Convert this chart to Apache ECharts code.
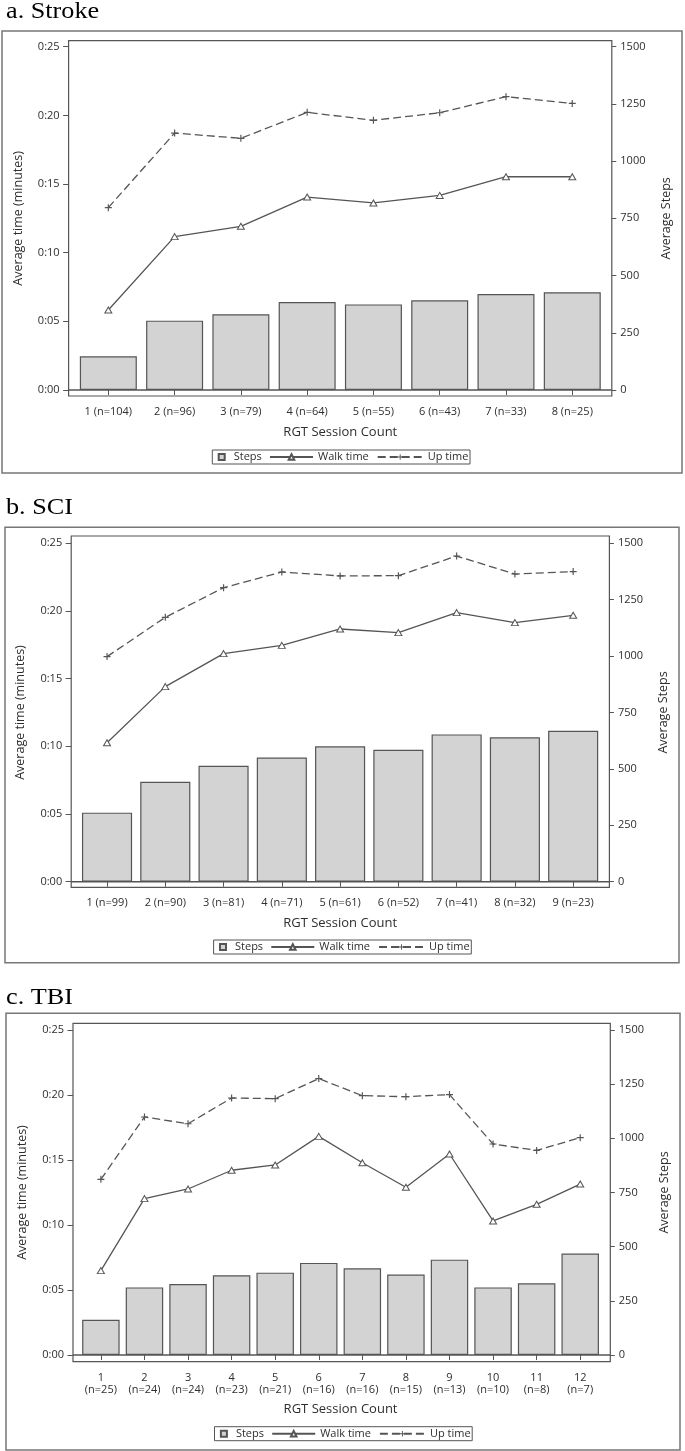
<!DOCTYPE html>
<html>
<head>
<meta charset="utf-8">
<script src="https://cdn.jsdelivr.net/npm/echarts@6/dist/echarts.min.js"></script>
<style>
  html, body { margin: 0; padding: 0; background: #fff; }
  #chart { width: 685px; height: 1451px; }
</style>
</head>
<body>
<div id="chart"></div>
<script>
// ---------- data ----------
const strokeCategories = ['1 (n=104)', '2 (n=96)', '3 (n=79)', '4 (n=64)', '5 (n=55)', '6 (n=43)', '7 (n=33)', '8 (n=25)'];
const strokeSteps = [147, 303, 331, 384, 374, 392, 419, 427];
const strokeWalk = [5.83, 11.17, 11.92, 14.05, 13.62, 14.17, 15.53, 15.53];
const strokeUp = [13.28, 18.71, 18.33, 20.22, 19.64, 20.19, 21.36, 20.87];

const sciCategories = ['1 (n=99)', '2 (n=90)', '3 (n=81)', '4 (n=71)', '5 (n=61)', '6 (n=52)', '7 (n=41)', '8 (n=32)', '9 (n=23)'];
const sciSteps = [306, 443, 514, 550, 600, 585, 653, 640, 669];
const sciWalk = [10.27, 14.41, 16.85, 17.46, 18.67, 18.40, 19.88, 19.14, 19.68];
const sciUp = [16.63, 19.53, 21.72, 22.88, 22.59, 22.61, 24.06, 22.73, 22.91];

const tbiCategories = ['1\n(n=25)', '2\n(n=24)', '3\n(n=24)', '4\n(n=23)', '5\n(n=21)', '6\n(n=16)', '7\n(n=16)', '8\n(n=15)', '9\n(n=13)', '10\n(n=10)', '11\n(n=8)', '12\n(n=7)'];
const tbiSteps = [163, 312, 328, 368, 380, 425, 400, 371, 440, 312, 331, 468];
const tbiWalk = [6.49, 12.03, 12.77, 14.21, 14.62, 16.82, 14.79, 12.90, 15.46, 10.31, 11.59, 13.15];
const tbiUp = [13.51, 18.31, 17.79, 19.77, 19.72, 21.26, 19.95, 19.87, 20.03, 16.23, 15.74, 16.72];

const timeTickLabels = ['0:00', '0:05', '0:10', '0:15', '0:20', '0:25'];
const timeMax = 25, timeInterval = 5;
const stepsMax = 1500, stepsInterval = 250;

const seriesNames = ['Steps', 'Walk time', 'Up time'];
const xAxisTitle = 'RGT Session Count';
const leftAxisTitle = 'Average time (minutes)';
const rightAxisTitle = 'Average Steps';

// ---------- layout ----------
const FONT = '"Open Sans", "Liberation Sans", Arial, sans-serif';
const SERIF = '"Liberation Serif", "Times New Roman", serif';
const INK = '#555';
const TXT = '#2e2e2e';

const panels = [
  { title: 'a. Stroke', cats: strokeCategories, steps: strokeSteps, walk: strokeWalk, up: strokeUp,
    titleY: 12.4, outer: [2, 31, 682, 473], frame: [68.6, 40.7, 611.8, 396], data: [75.2, 46.7, 605.4, 390],
    legendX: 212.3, legendY: 457, xNameGap: 29.5 },
  { title: 'b. SCI', cats: sciCategories, steps: sciSteps, walk: sciWalk, up: sciUp,
    titleY: 507.6, outer: [5, 527.3, 679, 962.7], frame: [71.2, 536, 609.4, 887.3], data: [77.9, 543.3, 602.3, 881.7],
    legendX: 213.6, legendY: 947, xNameGap: 29.5 },
  { title: 'c. TBI', cats: tbiCategories, steps: tbiSteps, walk: tbiWalk, up: tbiUp,
    titleY: 998.4, outer: [6, 1013.3, 680, 1450], frame: [73, 1023.3, 610.3, 1361.7], data: [79.1, 1030, 602, 1355],
    legendX: 214.5, legendY: 1433.7, xNameGap: 41 }
];

const plusPath = 'path://M5,0H7V5H12V7H7V12H5V7H0V5H5Z';
const trianglePath = 'path://M5,0L10,9H0Z';

const option = {
  animation: false,
  backgroundColor: '#fff',
  grid: [], xAxis: [], yAxis: [], series: [], legend: [], graphic: []
};

panels.forEach((p, i) => {
  const [fl, ft, fr, fb] = p.frame;
  const [dl, dt, dr, db] = p.data;
  option.graphic.push({
    type: 'text', silent: true, x: 6, y: p.titleY, scaleX: 1.14,
    style: { text: p.title, x: 0, y: 0, fill: '#000', font: '23px ' + SERIF, verticalAlign: 'middle', align: 'left' }
  });
  option.grid.push({ left: dl, top: dt, width: dr - dl, height: db - dt });
  option.xAxis.push({
    type: 'category', gridIndex: i, data: p.cats, offset: fb - db,
    axisLine: { show: false },
    axisTick: { show: true, alignWithLabel: true, length: 5, lineStyle: { color: INK, width: 1 } },
    axisLabel: { interval: 0, margin: 9.5, fontFamily: FONT, fontSize: 11, color: TXT, lineHeight: 12.6 },
    splitLine: { show: false },
    name: xAxisTitle, nameLocation: 'middle', nameGap: p.xNameGap,
    nameTextStyle: { fontFamily: FONT, fontSize: 13, color: TXT }
  });
  option.yAxis.push({
    type: 'value', gridIndex: i, position: 'left', min: 0, max: timeMax, interval: timeInterval,
    offset: dl - fl,
    axisLine: { show: false },
    axisTick: { show: true, length: 5.5, lineStyle: { color: INK, width: 1 } },
    splitLine: { show: false },
    axisLabel: { margin: 9, fontFamily: FONT, fontSize: 11, color: TXT,
      formatter: v => timeTickLabels[Math.round(v / timeInterval)] },
    name: leftAxisTitle, nameLocation: 'middle', nameGap: 44, nameRotate: 90,
    nameTextStyle: { fontFamily: FONT, fontSize: 12.5, color: TXT }
  });
  option.yAxis.push({
    type: 'value', gridIndex: i, position: 'right', min: 0, max: stepsMax, interval: stepsInterval,
    offset: fr - dr,
    axisLine: { show: false },
    axisTick: { show: true, length: 4.5, lineStyle: { color: INK, width: 1 } },
    splitLine: { show: false },
    axisLabel: { margin: 8.5, fontFamily: FONT, fontSize: 11, color: TXT, formatter: v => String(v) },
    name: rightAxisTitle, nameLocation: 'middle', nameGap: 48, nameRotate: 90,
    nameTextStyle: { fontFamily: FONT, fontSize: 12.5, color: TXT }
  });
  option.series.push({
    type: 'bar', name: seriesNames[0], xAxisIndex: i, yAxisIndex: 2 * i + 1, data: p.steps,
    barCategoryGap: '14%',
    itemStyle: { color: '#d3d3d3', borderColor: INK, borderWidth: 1.2 },
    emphasis: { disabled: true }, z: 2
  });
  option.series.push({
    type: 'line', name: seriesNames[1], xAxisIndex: i, yAxisIndex: 2 * i, data: p.walk,
    symbol: trianglePath, symbolSize: [7, 6], symbolKeepAspect: false,
    lineStyle: { color: INK, width: 1.3 },
    itemStyle: { color: '#fff', borderColor: INK, borderWidth: 1 },
    emphasis: { disabled: true }, z: 4
  });
  option.series.push({
    type: 'line', name: seriesNames[2], xAxisIndex: i, yAxisIndex: 2 * i, data: p.up,
    symbol: plusPath, symbolSize: 7,
    lineStyle: { color: INK, width: 1.3, type: [8, 4] },
    itemStyle: { color: INK },
    emphasis: { disabled: true }, z: 4
  });
  // legends
  const lx = p.legendX, ly = p.legendY;
  const legendText = { fontFamily: FONT, fontSize: 11, color: TXT, lineHeight: 13 };
  option.legend.push({
    data: [{ name: seriesNames[0], icon: 'rect' }], left: lx + 5.4, top: ly - 6.5, padding: 0, itemWidth: 6, itemHeight: 6,
    selectedMode: false, textStyle: Object.assign({}, legendText, { padding: [0, 0, 0, 4] })
  });
  option.legend.push({
    data: [seriesNames[1]], left: lx + 56.7, top: ly - 6.5, padding: 0, itemWidth: 43, itemHeight: 7,
    selectedMode: false, textStyle: legendText
  });
  option.legend.push({
    data: [seriesNames[2]], left: lx + 164.4, top: ly - 6.5, padding: 0, itemWidth: 45, itemHeight: 7,
    selectedMode: false, textStyle: legendText
  });
  // decorations: outer box, plot frame, zero line, legend box
  const [ol, ot, or, ob] = p.outer;
  option.graphic.push({ type: 'rect', silent: true, shape: { x: ol, y: ot, width: or - ol, height: ob - ot },
    style: { fill: 'none', stroke: '#777', lineWidth: 1.5 } });
  option.graphic.push({ type: 'rect', silent: true, shape: { x: fl, y: ft, width: fr - fl, height: fb - ft },
    style: { fill: 'none', stroke: INK, lineWidth: 1.2 } });
  option.graphic.push({ type: 'line', silent: true, shape: { x1: fl, y1: db, x2: fr, y2: db },
    style: { stroke: INK, lineWidth: 1.5 } });
  option.graphic.push({ type: 'rect', silent: true, shape: { x: lx, y: ly - 7, width: 257.7, height: 14 },
    style: { fill: 'none', stroke: INK, lineWidth: 1 } });
});

const chart = echarts.init(document.getElementById('chart'), null, { renderer: 'canvas' });
chart.setOption(option);
</script>
</body>
</html>
